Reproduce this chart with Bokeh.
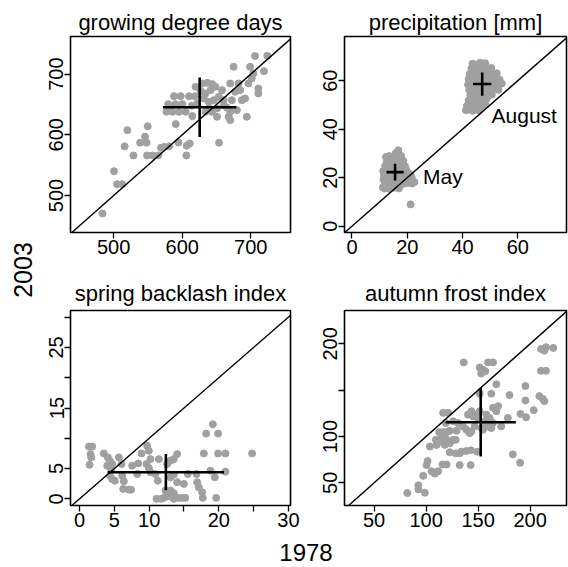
import math
from bokeh.plotting import figure
from bokeh.layouts import row, column
from bokeh.models import Range1d, FixedTicker, Slope
from bokeh.embed import file_html
from bokeh.resources import INLINE
from bokeh.core.properties import value

FONT = "Liberation Sans"
GREY = "#a0a0a0"

# ---------------- data ----------------
# growing degree days: (1978, 2003)
gdd_1978 = [483.6, 500.5, 505, 512.5, 516, 520, 529, 538.5, 545.8, 549.6, 548, 548.7, 556.9, 565,
            569, 573.7, 581, 590.6, 594.5, 606, 606.5, 611, 653.7, 579.5, 577, 585.8, 595.4, 605,
            588, 597.8, 610, 618.5, 590, 600, 614.7, 629.2, 636.4, 643.6, 648.4, 641.2, 634, 631.6,
            638.8, 646, 653.3, 658.1, 660.5, 650.8, 638.8, 634, 643.6, 650.8, 660.5, 670.1, 672.5,
            670.1, 670.1, 677.3, 682.2, 684.6, 687, 691.8, 694.2, 696.6, 701.4, 699, 703.9, 706.3,
            711.1, 711.1, 719.3, 724.1, 675, 619.5, 622, 583.4, 679.8, 667.7, 665, 627, 614]
gdd_2003 = [470.3, 540, 518.7, 518.7, 581, 607.7, 566, 587, 597, 614, 587, 566, 566, 566,
            578.6, 580, 581, 617.6, 587.4, 566, 582, 585.7, 587, 650.5, 638, 638, 638, 638,
            663.7, 663.7, 663.7, 663.7, 650.5, 650.5, 630.8, 684.6, 685.7, 683.5, 679.1, 673.6, 668.1, 659.9,
            654.4, 657.1, 662.6, 673.6, 657.1, 643.4, 643.4, 637.9, 637.9, 629.7, 648.9, 684.6, 657.1,
            637.9, 624.2, 670.9, 684.6, 673.6, 657.1, 659.9, 629.7, 684.6, 692.9, 712.1, 701.1, 729.7,
            676.4, 668.1, 704.9, 730.2, 712.1, 679, 651.6, 646, 640.7, 629.7, 645, 672, 648]
gdd_mean = [625.5, 645.5]
gdd_sd = [53.5, 49]

# precipitation [mm]: May and August
may_1978 = [11.2, 11.8, 12.5, 13.4, 14.2, 15.0, 16.1, 17.0, 12.0, 13.0, 14.0, 15.2, 16.5, 17.6, 18.6,
            19.8, 20.8, 21.8, 22.6, 11.4, 12.6, 13.6, 14.8, 16.0, 17.2, 18.4, 19.6, 20.6, 21.6, 11.6,
            12.8, 14.0, 15.2, 16.4, 17.6, 18.8, 19.8, 21.0, 11.3, 12.4, 13.6, 14.6, 16.0, 17.2, 18.4,
            19.6, 12.0, 13.2, 14.4, 15.6, 16.8, 18.0, 19.2, 12.6, 13.8, 15.0, 16.2, 17.4, 18.6, 12.3,
            13.5, 14.8, 15.9, 16.8, 17.8, 21.2]
may_2003 = [16.0, 15.5, 16.2, 15.4, 16.1, 15.8, 16.0, 15.6, 17.5, 18.0, 17.4, 17.8, 17.2, 17.9, 17.5,
            17.8, 18.0, 17.6, 18.2, 19.2, 19.8, 19.0, 19.6, 19.3, 19.9, 19.1, 19.7, 19.4, 20.2, 21.0,
            21.6, 21.2, 21.8, 21.1, 21.6, 21.2, 21.8, 21.5, 22.8, 23.4, 22.9, 23.6, 23.0, 23.5, 22.8,
            23.3, 24.8, 25.2, 24.6, 25.4, 24.9, 25.3, 24.7, 26.6, 27.0, 26.4, 27.2, 26.6, 26.9, 28.5,
            28.9, 28.2, 30.2, 31.3, 29.0, 9.0]
aug_1978 = [41.2, 42.4, 43.6, 44.8, 46.0, 41.6, 42.8, 44.0, 45.4, 47.0, 48.2, 42.2, 43.4, 44.6, 46.0,
            47.4, 48.8, 42.8, 44.0, 45.2, 46.6, 48.0, 49.4, 50.6, 42.4, 43.6, 44.8, 46.2, 47.6, 49.0,
            50.4, 51.8, 53.0, 42.0, 43.2, 44.4, 45.8, 47.2, 48.6, 50.0, 51.4, 52.8, 54.2, 42.2, 43.6,
            45.0, 46.4, 47.8, 49.2, 50.6, 52.0, 53.4, 42.6, 44.0, 45.4, 46.8, 48.2, 49.6, 51.0, 52.4,
            43.2, 44.6, 46.0, 47.4, 48.8, 50.4, 43.6, 45.0, 48.2, 46.4]
aug_2003 = [47.8, 48.2, 47.6, 48.0, 47.8, 49.6, 50.2, 49.8, 50.4, 49.6, 50.6, 51.8, 52.4, 51.6, 52.2,
            51.8, 52.6, 54.0, 54.6, 53.8, 54.4, 54.0, 54.8, 54.2, 56.2, 56.8, 56.0, 56.6, 56.2, 56.8,
            56.0, 56.6, 56.2, 58.4, 58.9, 58.2, 59.0, 58.4, 59.2, 58.6, 59.0, 58.4, 58.8, 60.6, 61.2,
            60.4, 61.0, 60.6, 61.2, 60.6, 61.0, 60.4, 62.8, 63.2, 62.6, 63.4, 62.8, 63.2, 62.6, 63.0,
            65.0, 65.6, 64.8, 65.4, 64.8, 65.2, 67.0, 66.6, 67.2, 67.4]
prec_mean_1978 = [15.6, 47.1]
prec_mean_2003 = [22.3, 58.6]
prec_sd_1978 = [3.1, 3.3]
prec_sd_2003 = [3.45, 4.8]
prec_labels = ["May", "August"]
prec_label_x = [25.7, 50.5]
prec_label_y = [20.5, 45.5]

# spring backlash index
sbi_1978 = [1.34, 1.82, 1.58, 1.67, 1.44, 3.49, 4.07, 4.35, 4.69, 3.97, 4.55, 4.35, 4.69, 5.07, 5.65,
            6.03, 6.12, 6.36, 6.27, 7.08, 7.56, 8.28, 8.42, 8.9, 9.71, 9.95, 10.19, 9.62, 9.95, 10.19,
            10.91, 11.24, 11.39, 12.58, 13.06, 13.54, 14.02, 11.05, 11.72, 12.1, 12.58, 13.06, 13.54,
            14.26, 14.74, 15.2, 12.34, 13.06, 13.54, 13.06, 13.54, 14.02, 14.98, 15.55, 16.79, 16.89,
            17.13, 17.6, 17.7, 17.85, 18.18, 19.14, 19.9, 19.9, 20.96, 19.43, 19.62, 18.8, 20.96, 24.78,
            7.4]
sbi_2003 = [8.64, 8.64, 7.39, 6.84, 5.63, 7.5, 6.84, 6.29, 5.74, 5.47, 4.76, 3.83, 3.28, 3.0, 6.84,
            5.74, 3.83, 2.9, 1.64, 1.53, 5.47, 4.1, 5.85, 7.5, 8.75, 7.93, 6.56, 5.74, 5.09, 4.38,
            4.1, 3.0, 6.56, 5.74, 6.29, 6.56, 7.39, 0.0, 0.0, 0.16, 0.38, 0.55, 0.0,
            0.16, 0.16, 0.16, 1.37, 1.37, 0.93, 3.56, 4.0, 2.74, 2.46, 4.1, 4.1, 2.74,
            1.91, 1.09, 0.16, 7.49, 10.78, 12.31, 10.78, 7.49, 7.49, 3.56, 0.16, 4.65, 4.49, 7.49,
            1.5]
sbi_mean = [12.4, 4.4]
sbi_sd = [8.35, 3.0]

# autumn frost index
afi_1978 = [81.9, 92.5, 92.5, 98.8, 97.2, 100.4, 101.4, 105.2, 108.4, 111.6, 115.8, 119.6,
            103.6, 110, 113.2, 118, 122.8, 109.4, 114.8, 119.6, 112.6, 116.4, 121.2, 118, 126,
            122.8, 128.5, 132.3, 133.9, 138.7, 143.1, 149.2, 132.3, 142.8, 128.5, 122.8, 129.2,
            116.4, 121.2, 118.9, 126, 130.8, 135.5, 138.7, 141.9, 143.5, 140.3, 143.5, 148.3,
            151.5, 157.9, 161.1, 156.3, 164.3, 146.7, 153.1, 159.5, 162.7, 154.7, 164.3, 167.5,
            169.3, 151.5, 162.7, 167.5, 172.2, 178.6, 180.2, 195.5, 195.5, 190.8, 196.2, 203.5,
            183.4, 190.4, 208.9, 212.1, 213.7, 210.5, 215.3, 136.2, 151.5, 154.7, 153, 157, 159.5,
            164.3, 210.5, 213.7, 215.3, 222.3, 150.5, 145.5]
afi_2003 = [38.9, 47.3, 42.9, 39.3, 57.5, 69.1, 73.5, 62.5, 60.0, 62.5, 69.8, 69.8,
            89.1, 90.9, 94.5, 90.9, 92.7, 96.4, 98.2, 96.4, 104.7, 104.7, 105.5, 100, 96.4,
            82.9, 81.8, 81.8, 83.6, 84.3, 85.1, 83.6, 69.1, 69.1, 96.4, 106.2, 106.2,
            125.5, 125.5, 114.5, 116.4, 114.5, 110.9, 107.3, 103.6, 105.5, 123.6, 127.3, 123.6,
            127.3, 123.6, 120, 116.4, 114.5, 110.9, 109.1, 110.9, 109.1, 107.3, 130.9, 127.3,
            132.7, 146.2, 146.2, 156.4, 110.9, 120, 144.7, 154.5, 138.9, 124.4, 120.7, 128.4,
            80.7, 71.6, 143.6, 140.7, 138.2, 170.9, 170.9, 180, 174.5, 172, 168, 170.5, 180,
            180, 194.5, 192.7, 196.4, 195.6, 118.5, 121.5]
afi_mean = [152.5, 115.3]
afi_sd = [33.8, 37.0]

# ---------------- drawing ----------------
def base_panel(title, xr, yr, xticks, yticks, xhide, yhide, w, h, bl, br, bt, bb, standoff):
    p = figure(width=w, height=h, x_range=Range1d(*xr), y_range=Range1d(*yr),
               output_backend="svg", toolbar_location=None,
               min_border_left=bl, min_border_right=br, min_border_top=bt, min_border_bottom=bb)
    p.title.text = title
    p.title.align = "center"
    p.title.text_font = FONT
    p.title.text_font_size = "22px"
    p.title.text_font_style = "normal"
    p.title.text_color = "black"
    p.title.standoff = standoff
    p.grid.visible = False
    p.outline_line_color = "black"
    p.outline_line_width = 1.6
    p.background_fill_color = "white"
    p.border_fill_color = "white"
    for ax, ticks, hide in ((p.xaxis[0], xticks, xhide), (p.yaxis[0], yticks, yhide)):
        ax.ticker = FixedTicker(ticks=ticks)
        ax.major_label_overrides = {t: "" for t in hide}
        ax.axis_line_color = None
        ax.major_tick_line_color = "black"
        ax.major_tick_line_width = 1.3
        ax.major_tick_out = 6
        ax.major_tick_in = 0
        ax.minor_tick_line_color = None
        ax.major_label_text_font = FONT
        ax.major_label_text_font_size = "20px"
        ax.major_label_text_color = "black"
        ax.major_label_standoff = 1
    p.yaxis[0].major_label_orientation = "vertical"
    p.add_layout(Slope(gradient=1, y_intercept=0, line_color="black", line_width=1.4))
    return p


def cross(p, m, s):
    p.segment(x0=[m[0] - s[0]], y0=[m[1]], x1=[m[0] + s[0]], y1=[m[1]], line_color="black", line_width=2.6)
    p.segment(x0=[m[0]], y0=[m[1] - s[1]], x1=[m[0]], y1=[m[1] + s[1]], line_color="black", line_width=2.6)


W1, W2 = 269, 263
H1, H2 = 274, 263
HB = 567 - H1 - H2
PT = 7

p1 = base_panel("growing degree days", (437, 758), (439, 762), [500, 600, 700], [500, 600, 700], [], [],
                W1, H1, 34, 15, 36, 42, 4)
p1.scatter(gdd_1978, gdd_2003, size=PT, color=GREY)
cross(p1, gdd_mean, gdd_sd)

p2 = base_panel("precipitation [mm]", (-2.7, 77.6), (-2.6, 78.2), [0, 20, 40, 60], [0, 20, 40, 60], [], [],
                W2, H1, 39, 2, 36, 42, 4)
p2.scatter(may_1978, may_2003, size=PT, color=GREY)
p2.scatter(aug_1978, aug_2003, size=PT, color=GREY)
for i in range(2):
    cross(p2, [prec_mean_1978[i], prec_mean_2003[i]], [prec_sd_1978[i], prec_sd_2003[i]])
p2.text(x=prec_label_x, y=prec_label_y, text=prec_labels, text_font=value(FONT), text_font_size="21px",
        text_baseline="middle", text_align="left", text_color="black")

p3 = base_panel("spring backlash index", (-1.3, 30.3), (-1.1, 31.1), [0, 5, 10, 15, 20, 25, 30],
                [0, 5, 10, 15, 20, 25, 30], [15, 25], [10, 20, 30], W1, H2, 34, 15, 35, 32, 9)
p3.scatter(sbi_1978, sbi_2003, size=PT, color=GREY)
cross(p3, sbi_mean, sbi_sd)

p4 = base_panel("autumn frost index", (21.5, 235), (25.5, 236), [50, 100, 150, 200], [50, 100, 150, 200],
                [], [150], W2, H2, 39, 2, 35, 32, 9)
p4.scatter(afi_1978, afi_2003, size=PT, color=GREY)
cross(p4, afi_mean, afi_sd)

# shared axis titles
ls = figure(width=36, height=H1 + H2, x_range=Range1d(0, 36), y_range=Range1d(0, H1 + H2),
            output_backend="svg", toolbar_location=None, min_border=0, title=None,
            x_axis_location=None, y_axis_location=None)
ls.grid.visible = False
ls.outline_line_color = None
ls.text(x=[22], y=[H1 + H2 - 269.5], text=["2003"], angle=math.pi / 2, text_align="center",
        text_baseline="middle", text_font=value(FONT), text_font_size="25px", text_color="black")

bs = figure(width=568, height=HB, x_range=Range1d(0, 568), y_range=Range1d(0, HB),
            output_backend="svg", toolbar_location=None, min_border=0, title=None,
            x_axis_location=None, y_axis_location=None)
bs.grid.visible = False
bs.outline_line_color = None
bs.text(x=[305.5], y=[HB / 2], text=["1978"], text_align="center", text_baseline="middle",
        text_font=value(FONT), text_font_size="24px", text_color="black")

layout = column(row(ls, column(row(p1, p2), row(p3, p4))), bs)

with open("out.html", "w") as f:
    f.write(file_html(layout, INLINE))
